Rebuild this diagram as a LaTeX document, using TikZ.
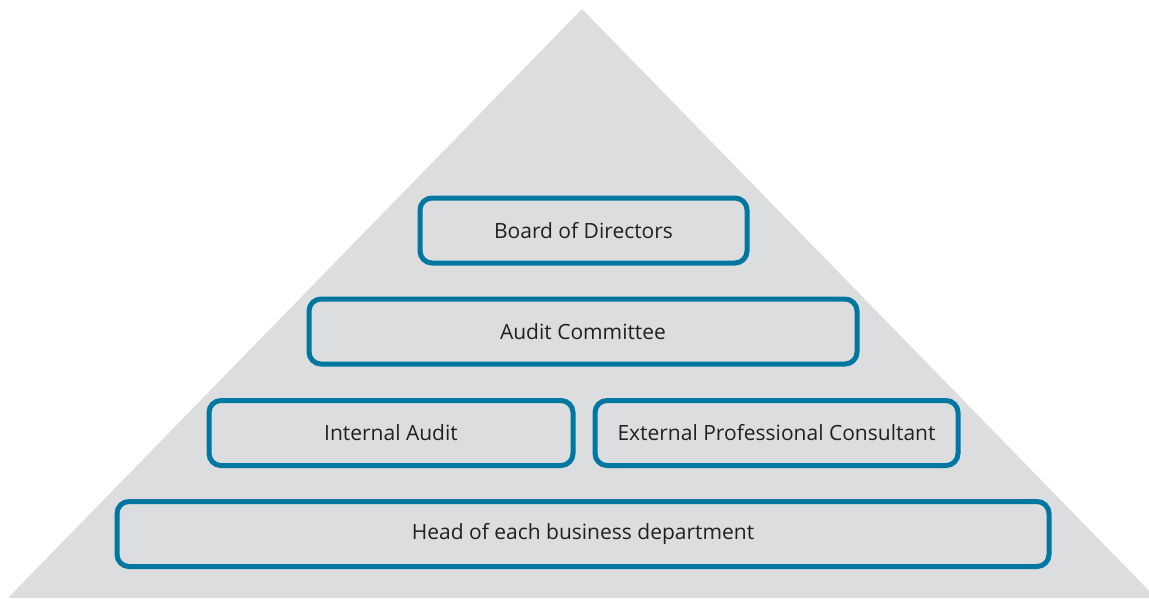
\documentclass[tikz,border=0pt]{standalone}
\usepackage{fontspec}
\setmainfont{Open Sans}
\usepackage{tikz}
\usetikzlibrary{positioning}

\definecolor{pyrfill}{HTML}{DCDDDF}
\definecolor{boxline}{HTML}{0077A0}
\definecolor{boxtext}{HTML}{231F20}

\tikzset{
  level/.style={draw=boxline,line width=5pt,rounded corners=12pt,fill=pyrfill,
    minimum height=65pt,inner sep=0pt,text=boxtext,font=\fontsize{21}{24}\selectfont}
}

\begin{document}
\begin{tikzpicture}[x=1pt,y=-1pt]
  \useasboundingbox (0,0) rectangle (1149,598);
  \fill[pyrfill] (582,9) -- (1156,598) -- (8,598) -- cycle;
  \node[level,minimum width=327pt] (board) at (583.5,230.5) {Board of Directors};
  \node[level,minimum width=548pt] (committee) at (583,331.5) {Audit Committee};
  \node[level,minimum width=364pt] (internal) at (391,433) {Internal Audit};
  \node[level,minimum width=363pt] (external) at (776.5,433) {External Professional Consultant};
  \node[level,minimum width=932pt] (heads) at (583,534) {Head of each business department};
\end{tikzpicture}
\end{document}
